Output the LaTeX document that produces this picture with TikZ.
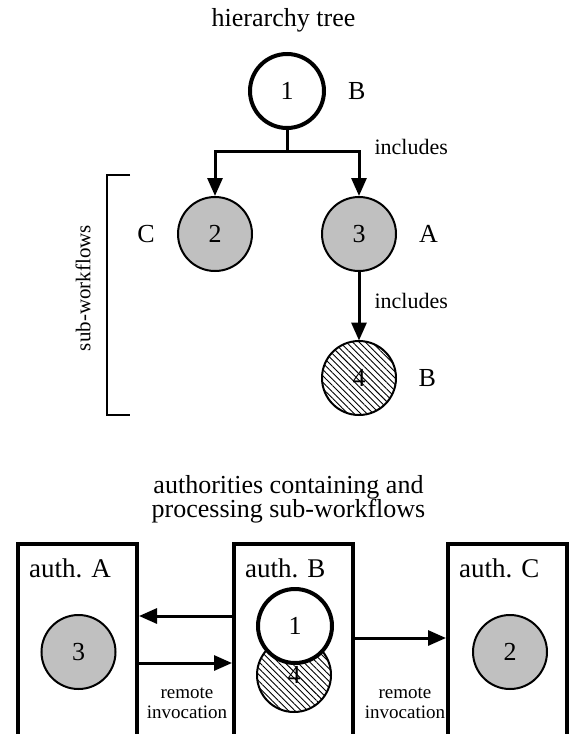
\documentclass[tikz,border=0pt]{standalone}
\usepackage{fontspec}
\setmainfont{Liberation Serif}
\usetikzlibrary{positioning,arrows.meta,patterns.meta}
\definecolor{nodegray}{RGB}{192,192,192}
\tikzset{
  task/.style={circle, draw, line width=2pt, minimum size=74pt, inner sep=0pt, font=\fontsize{26}{28}\selectfont},
  roottask/.style={task, line width=4pt, fill=white},
  subtask/.style={task, fill=nodegray},
  hatchtask/.style={task, pattern={Lines[angle=-45,distance=4.5pt,line width=0.9pt]}},
  lbl/.style={inner sep=0pt, font=\fontsize{26}{28}\selectfont},
  smalllbl/.style={inner sep=0pt, font=\fontsize{22}{24}\selectfont},
  remlbl/.style={inner sep=0pt, align=center, font=\fontsize{19}{20}\selectfont},
  authbox/.style={rectangle, draw, line width=4pt, minimum width=119pt, minimum height=200pt},
  arr/.style={line width=3pt, -{Triangle[length=18pt,width=15pt]}},
}
\begin{document}
\begin{tikzpicture}[x=1pt,y=-1pt]
\useasboundingbox (0,0) rectangle (572,734);
% hierarchy tree
\node[lbl, anchor=base] (treetitle) at (283.5,26) {hierarchy tree};
\node[roottask] (t1) at (287,91) {1};
\node[subtask] (t2) at (215,234) {2};
\node[subtask] (t3) at (359,234) {3};
\node[hatchtask] (t4) at (359,378) {4};
\node[lbl, right=22pt of t1] (o1) {B};
\node[lbl, left=22pt of t2] (o2) {C};
\node[lbl, right=22pt of t3] (o3) {A};
\node[lbl, right=22pt of t4] (o4) {B};
\coordinate (split) at (287,151);
\draw[line width=3pt] (t1) -- (split);
\draw[arr] (split) -| (t2);
\draw[arr] (split) -| (t3)
  node[pos=0.5, anchor=west, xshift=14pt, yshift=4pt, smalllbl]{includes};
\draw[arr] (t3) -- (t4)
  node[midway, anchor=west, xshift=14pt, yshift=5pt, smalllbl]{includes};
% bracket
\coordinate (brtop) at (130,175);
\coordinate (brbot) at (130,415);
\draw[line width=2pt] (brtop) -- ++(-23,0) |- (brbot);
\node[rotate=90, inner sep=0pt, font=\fontsize{21}{24}\selectfont] (subwf) at (83,288) {sub-workflows};

% authorities
\node[lbl, align=center, font=\fontsize{26}{24}\selectfont] (authtitle) at (288.5,499)
  {authorities containing and\\processing sub-workflows};
\node[authbox] (authA) at (77.5,644) {};
\node[authbox] (authB) at (293.5,644) {};
\node[authbox] (authC) at (507.5,644) {};
\node[lbl, font=\fontsize{27}{28}\selectfont, anchor=base west] (labA) at ([xshift=13pt,yshift=-35pt]authA.north west) {auth. A};
\node[lbl, font=\fontsize{27}{28}\selectfont, anchor=base west] (labB) at ([xshift=13pt,yshift=-35pt]authB.north west) {auth. B};
\node[lbl, font=\fontsize{27}{28}\selectfont, anchor=base west] (labC) at ([xshift=13pt,yshift=-35pt]authC.north west) {auth. C};
\node[subtask] (a3) at (78.5,652) {3};
\node[hatchtask] (b4) at (294,675) {4};
\node[roottask] (b1) at (295,626) {1};
\node[subtask] (c2) at (510,652) {2};
\draw[arr] ([yshift=28pt]authB.west) -- ([yshift=28pt]authA.east);
\draw[arr] ([yshift=-19pt]authA.east) -- ([yshift=-19pt]authB.west);
\draw[arr] ([yshift=6pt]authB.east) -- ([yshift=6pt]authC.west);
\node[remlbl] (remA) at (187,703) {remote\\invocation};
\node[remlbl] (remB) at (405,703) {remote\\invocation};
\end{tikzpicture}
\end{document}
